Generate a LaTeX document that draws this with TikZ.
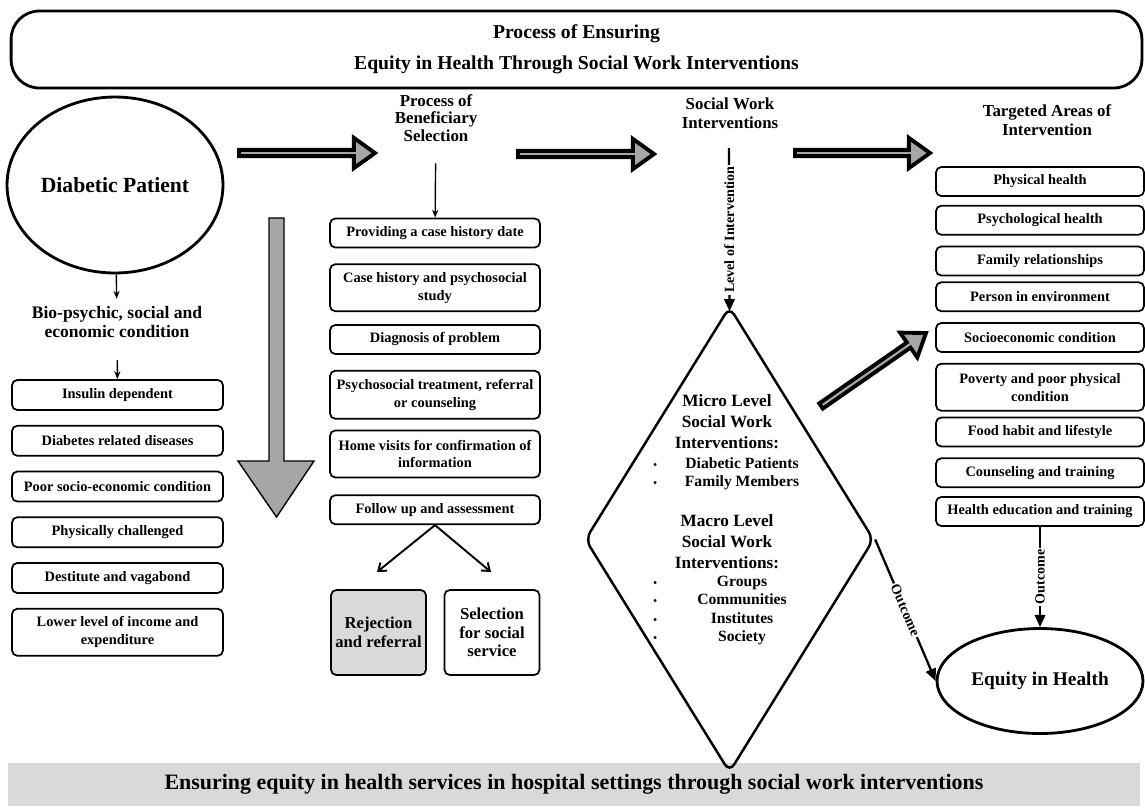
\documentclass[tikz,border=0pt]{standalone}
\usepackage{fontspec}
\setmainfont{Liberation Serif}
\usetikzlibrary{positioning,shapes.geometric,calc,arrows.meta}

\definecolor{panelgray}{HTML}{D9D9D9}
\definecolor{arrowgray}{HTML}{A6A6A6}

\newcommand{\dotitem}{{\fontsize{6}{6}\selectfont\textbullet}\hspace{0.7cm}}
% broad outlined arrow from #1 to #2
\newcommand{\fatarrow}[2]{%
  \coordinate (fh) at ($(#2)!12pt!(#1)$);
  \draw[fat] ($(#1)!1.8pt!90:(#2)$) -- ($(fh)!1.8pt!-90:(#1)$) -- ($(fh)!8.6pt!-90:(#1)$)
    -- (#2) -- ($(fh)!8.6pt!90:(#1)$) -- ($(fh)!1.8pt!90:(#1)$)
    -- ($(#1)!1.8pt!-90:(#2)$) -- cycle;}

\begin{document}
\begin{tikzpicture}[x=0.02cm, y=-0.02cm,
  box/.style={draw, rounded corners=3pt, line width=1pt, align=center, inner sep=1pt,
    font=\fontsize{8.2}{10.2}\selectfont\bfseries},
  leftbox/.style={box, minimum width=4.22cm, minimum height=0.6cm},
  midbox/.style={box, minimum width=4.2cm, minimum height=0.58cm},
  rightbox/.style={box, minimum width=4.16cm, minimum height=0.58cm},
  outbox/.style={draw, rounded corners=3pt, line width=1pt, align=center, inner sep=1pt,
    minimum width=1.9cm, minimum height=1.7cm, font=\fontsize{9.5}{10.6}\selectfont\bfseries},
  head/.style={align=center, inner sep=1pt, font=\fontsize{9.6}{9.8}\selectfont\bfseries},
  ell/.style={draw, ellipse, line width=1.6pt, inner sep=0pt},
  banner/.style={draw, line width=1.6pt, rounded corners=16pt, align=center,
    minimum width=22.62cm, minimum height=1.54cm, font=\fontsize{11.2}{17.5}\selectfont\bfseries},
  footbar/.style={fill=panelgray, minimum width=22.64cm, minimum height=0.86cm,
    font=\fontsize{12.5}{14}\selectfont\bfseries},
  dhead/.style={align=center, inner sep=0pt, font=\fontsize{9.8}{12}\selectfont\bfseries},
  ditem/.style={anchor=west, align=left, inner sep=0pt, font=\fontsize{8.9}{10.4}\selectfont\bfseries},
  lbl/.style={fill=white, inner sep=1pt, font=\fontsize{8}{9}\selectfont\bfseries},
  fat/.style={draw=black, fill=arrowgray, line width=2.2pt},
  downarr/.style={draw=black, fill=arrowgray, line width=0.8pt},
  thinarr/.style={line width=0.8pt, -{Stealth[length=4.5pt,width=3.5pt]}},
  splitarr/.style={line width=1.1pt, -{Straight Barb[length=4pt,width=6pt]}},
  boldarr/.style={line width=1.3pt, -{Triangle[length=7pt,width=6pt]}}]

\useasboundingbox (0,0) rectangle (1145,809);

% title and footer
\node[banner] (ttl) at (576.5,49.5) {Process of Ensuring\\Equity in Health Through Social Work Interventions};
\node[footbar] (foot) at (574,784.5) {Ensuring equity in health services in hospital settings through social work interventions};

% patient side
\node[ell, minimum width=4.32cm, minimum height=3.52cm,
  font=\fontsize{12.3}{14}\selectfont\bfseries] (pat) at (115,185) {Diabetic Patient};
\node[head, font=\fontsize{10}{11.3}\selectfont\bfseries] (bio) at (117,322)
  {Bio-psychic, social and\\economic condition};
\node[leftbox] (ins) at (117.5,395) {Insulin dependent};
\node[leftbox, below=0.28cm of ins] (drd) {Diabetes related diseases};
\node[leftbox, below=0.28cm of drd] (poor) {Poor socio-economic condition};
\node[leftbox, below=0.28cm of poor] (phys) {Physically challenged};
\node[leftbox, below=0.28cm of phys] (dest) {Destitute and vagabond};
\node[leftbox, below=0.28cm of dest, minimum height=0.94cm] (inc)
  {Lower level of income and\\expenditure};
\draw[thinarr, shorten >=0.1cm] (pat) -- (bio);
\draw[thinarr, shorten <=0.4cm] (bio) -- (ins);

\draw[downarr] (269,218) -- (284,218) -- (284,461) -- (314,461) -- (276.5,517)
  -- (238,461) -- (269,461) -- cycle;

% beneficiary selection
\node[head] (pbs) at (436,118) {Process of\\Beneficiary\\Selection};
\node[midbox] (b1) at (435,233) {Providing a case history date};
\node[midbox, below=0.3cm of b1, minimum height=0.94cm] (b2) {Case history and psychosocial\\study};
\node[midbox, below=0.24cm of b2] (b3) {Diagnosis of problem};
\node[midbox, below=0.3cm of b3, minimum height=0.96cm] (b4) {Psychosocial treatment, referral\\or counseling};
\node[midbox, below=0.2cm of b4, minimum height=0.94cm] (b5) {Home visits for confirmation of\\information};
\node[midbox, below=0.32cm of b5] (b6) {Follow up and assessment};
\node[outbox, fill=panelgray] (rej) at (378.5,632.5) {Rejection\\and referral};
\node[outbox] (sel) at (492,632.5) {Selection\\for social\\service};
\coordinate (rejin) at (377,572);
\coordinate (selin) at (491,572);
\draw[thinarr, shorten <=0.4cm] (pbs) -- (b1);
\draw[splitarr] (b6.south) -- (rejin);
\draw[splitarr] (b6.south) -- (selin);

% interventions
\node[head, font=\fontsize{9.6}{10.8}\selectfont\bfseries] (swi) at (730,113.5) {Social Work\\Interventions};
\node[draw, diamond, line width=1.4pt, rounded corners=5pt, minimum width=5.78cm,
  minimum height=9.32cm, inner sep=0pt] (lvl) at (729.5,539.5) {};
\coordinate (lvltop) at (729,148);
\coordinate (lvlin) at ($(lvl.north)+(0,6)$);
\draw[boldarr] (lvltop) -- (lvlin)
  node[midway, rotate=90, lbl] {Level of Intervention};
\node[dhead] (mich) at (727,422) {Micro Level\\Social Work\\Interventions:};
\node[ditem] (mici) at (653,473.5) {\dotitem\makebox[2cm]{Diabetic Patients}\\
  \dotitem\makebox[2cm]{Family Members}};
\node[dhead] (mach) at (727,542) {Macro Level\\Social Work\\Interventions:};
\node[ditem] (maci) at (653,610.5) {\dotitem\makebox[2cm]{Groups}\\
  \dotitem\makebox[2cm]{Communities}\\\dotitem\makebox[2cm]{Institutes}\\
  \dotitem\makebox[2cm]{Society}};

% targeted areas
\node[head, font=\fontsize{9.6}{10.8}\selectfont\bfseries] (tai) at (1047,120.5) {Targeted Areas of\\Intervention};
\node[rightbox] (r1) at (1040,181.5) {Physical health};
\node[rightbox, below=0.16cm of r1] (r2) {Psychological health};
\node[rightbox, below=0.2cm of r2] (r3) {Family relationships};
\node[rightbox, below=0.1cm of r3] (r4) {Person in environment};
\node[rightbox, below=0.2cm of r4] (r5) {Socioeconomic condition};
\node[rightbox, below=0.2cm of r5, minimum height=0.94cm] (r6) {Poverty and poor physical\\condition};
\node[rightbox, below=0.1cm of r6] (r7) {Food habit and lifestyle};
\node[rightbox, below=0.2cm of r7] (r8) {Counseling and training};
\node[rightbox, below=0.16cm of r8] (r9) {Health education and training};
\node[ell, minimum width=4.12cm, minimum height=2.1cm,
  font=\fontsize{11}{13}\selectfont\bfseries] (eq) at (1040,681) {Equity in Health};
\draw[boldarr] (r9) -- (eq) node[midway, rotate=90, lbl] {Outcome};
\draw[boldarr] (lvl.east) -- (eq.west) node[midway, sloped, lbl] {Outcome};

% broad flow arrows
\coordinate (h1a) at (239,153);
\coordinate (h1b) at (375,153);
\coordinate (h2a) at (518,154);
\coordinate (h2b) at (654,154);
\coordinate (h3a) at (795,153);
\coordinate (h3b) at (930,153);
\coordinate (dga) at (821,406);
\coordinate (dgb) at (926,333);
\fatarrow{h1a}{h1b}
\fatarrow{h2a}{h2b}
\fatarrow{h3a}{h3b}
\fatarrow{dga}{dgb}
\end{tikzpicture}
\end{document}
